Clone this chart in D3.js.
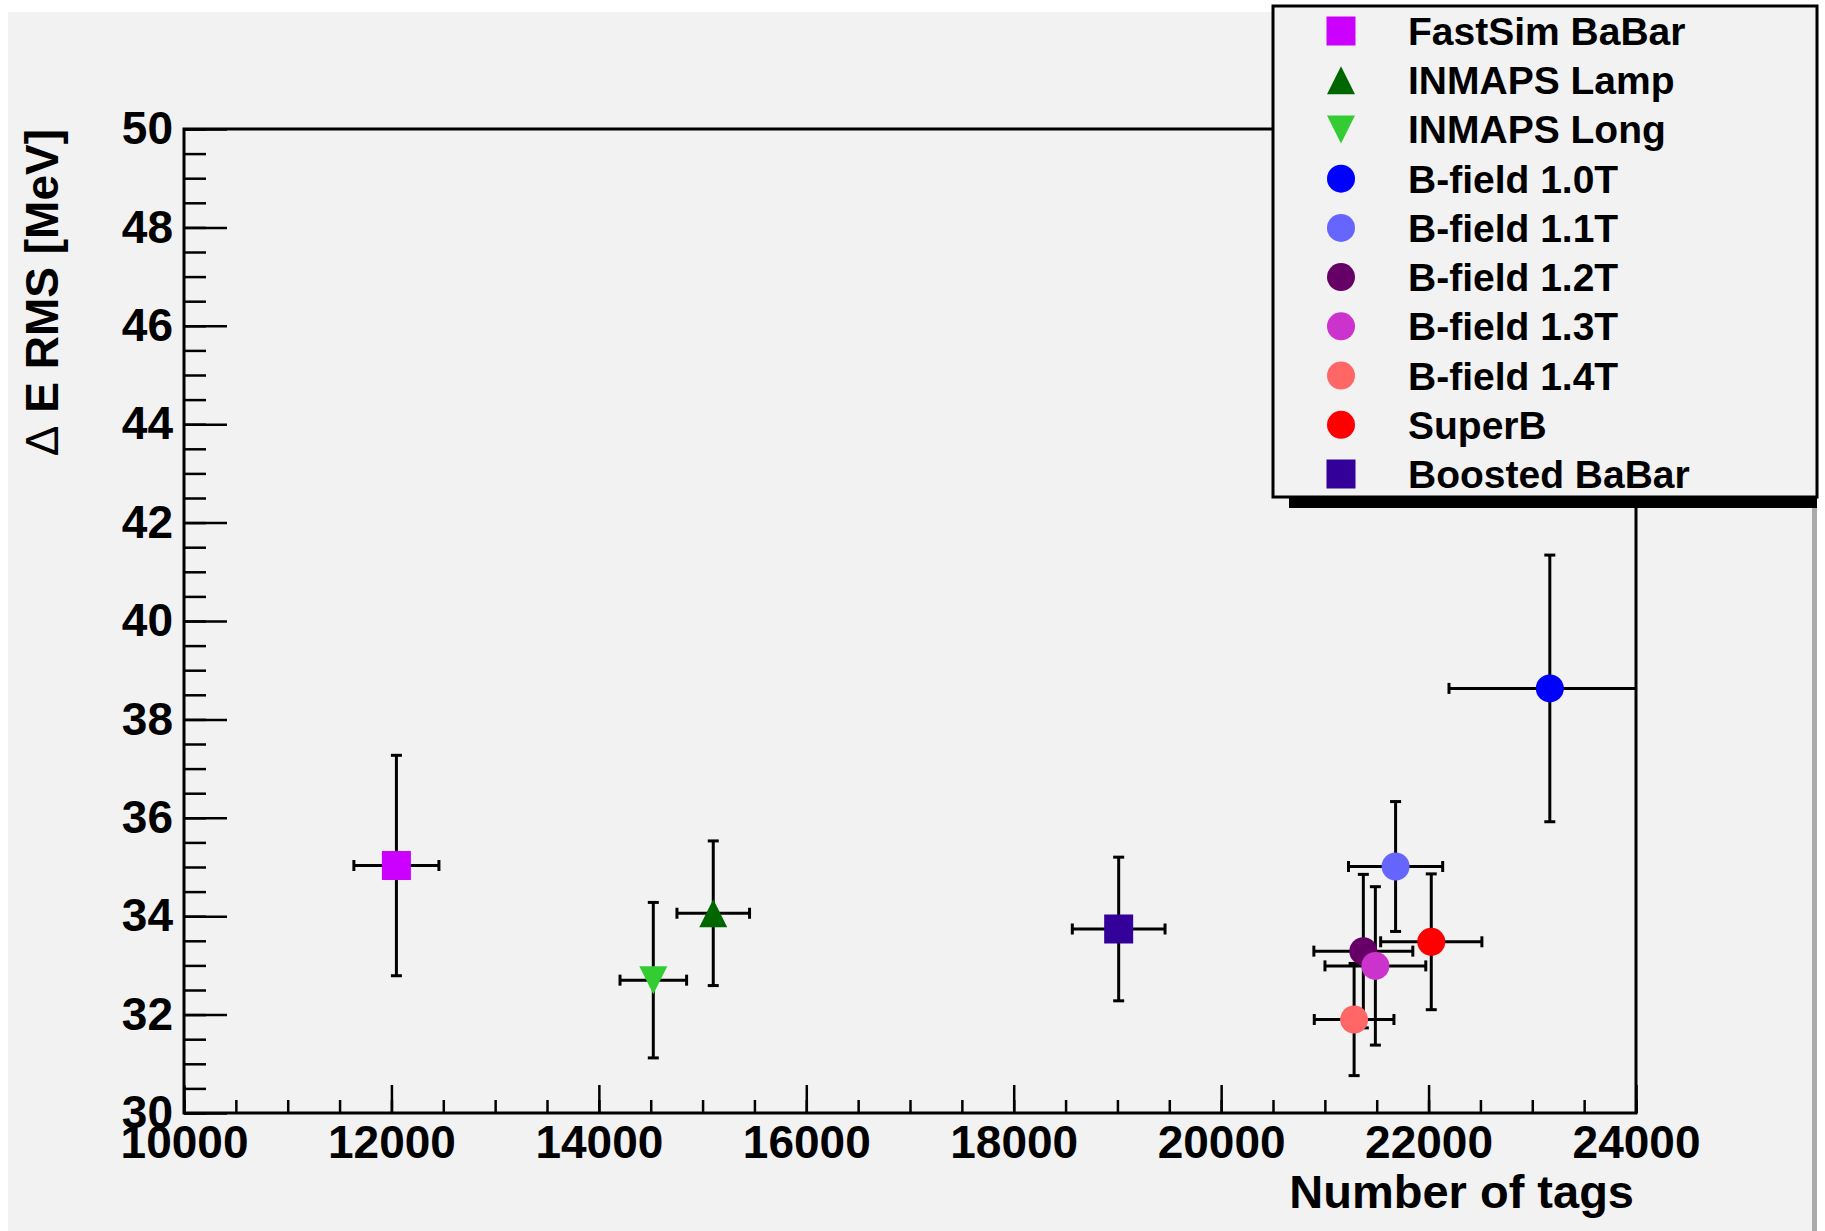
<!DOCTYPE html>
<html>
<head>
<meta charset="utf-8">
<script src="https://cdn.jsdelivr.net/npm/d3@7"></script>
<style>
  body { margin: 0; background: #fff; }
  svg { display: block; font-family: "Liberation Sans", Arial, Helvetica, sans-serif; font-weight: bold; }
</style>
</head>
<body>
<svg id="chart" width="1825" height="1231"></svg>
<script>
// ---- data ----
const names = ['FastSim BaBar', 'INMAPS Lamp', 'INMAPS Long', 'B-field 1.0T', 'B-field 1.1T',
  'B-field 1.2T', 'B-field 1.3T', 'B-field 1.4T', 'SuperB', 'Boosted BaBar']
const colors = ['#cc00ff', '#006600', '#33cc33', '#0000ff', '#6666ff',
  '#660066', '#cc33cc', '#ff6666', '#ff0000', '#330099']
const shapes = ['square', 'up', 'down', 'circle', 'circle', 'circle', 'circle', 'circle', 'circle', 'square']
const tags = [12048, 15103, 14525, 23169, 21682, 21371, 21487, 21282, 22026, 19012]
const tagErr = [410, 350, 321, 972, 454, 477, 486, 384, 488, 447]
const rms = [35.03, 34.06, 32.70, 38.63, 35.01, 33.29, 32.99, 31.90, 33.48, 33.74]
const rmsErr = [2.24, 1.47, 1.58, 2.71, 1.32, 1.56, 1.61, 1.14, 1.38, 1.46]
const xTicks = [10000, 12000, 14000, 16000, 18000, 20000, 22000, 24000]
const yTicks = [30, 32, 34, 36, 38, 40, 42, 44, 46, 48, 50]

const rows = names.map((n, i) => ({
  name: n, color: colors[i], shape: shapes[i],
  x: tags[i], ex: tagErr[i], y: rms[i], ey: rmsErr[i]
}))

const svg = d3.select('#chart')

/* ---------- canvas background ---------- */
svg.append('rect').attr('x', 8).attr('y', 12).attr('width', 1804).attr('height', 1219).attr('fill', '#f2f2f2')
svg.append('rect').attr('x', 1812).attr('y', 12).attr('width', 5).attr('height', 1219).attr('fill', '#aaaaaa')

/* ---------- scales ---------- */
const L = 184, R = 1636, T = 129, B = 1113
const x = d3.scaleLinear().domain([10000, 24000]).range([L, R])
const y = d3.scaleLinear().domain([30, 50]).range([B, T])

/* ---------- axes ---------- */
const fmt = d3.format('d')

// minor ticks
svg.append('g')
  .attr('transform', `translate(0,${B})`)
  .call(d3.axisBottom(x).tickValues(d3.range(10000, 24001, 500)).tickSize(-13).tickFormat(''))
svg.append('g')
  .attr('transform', `translate(${L},0)`)
  .call(d3.axisLeft(y).tickValues(d3.range(30, 50.01, 0.5)).tickSize(-22).tickFormat(''))

// major ticks + labels
svg.append('g')
  .attr('class', 'xaxis')
  .attr('transform', `translate(0,${B})`)
  .call(d3.axisBottom(x).tickValues(xTicks).tickSize(-28).tickPadding(12).tickFormat(fmt))
svg.append('g')
  .attr('class', 'yaxis')
  .attr('transform', `translate(${L},0)`)
  .call(d3.axisLeft(y).tickValues(yTicks).tickSize(-43).tickPadding(11).tickFormat(fmt))

svg.selectAll('.domain').remove()
svg.selectAll('.tick line').attr('stroke', '#000').attr('stroke-width', 2.5)
svg.selectAll('.xaxis text, .yaxis text')
  .attr('fill', '#000')
  .style('font-size', '46px')
  .style('font-family', '"Liberation Sans", Arial, sans-serif')
  .style('font-weight', 'bold')

// frame
svg.append('rect')
  .attr('x', L).attr('y', T).attr('width', R - L).attr('height', B - T)
  .attr('fill', 'none').attr('stroke', '#000').attr('stroke-width', 3)

/* ---------- axis titles ---------- */
svg.append('text')
  .attr('x', R - 2).attr('y', 1208)
  .attr('text-anchor', 'end')
  .style('font-size', '47px')
  .text('Number of tags')

const yTitle = svg.append('text')
  .attr('transform', `translate(58,${T}) rotate(-90)`)
  .attr('text-anchor', 'end')
  .style('font-size', '46px')
yTitle.append('tspan').style('font-weight', 'normal').text('\u0394')
yTitle.append('tspan').text(' E RMS [MeV]')

/* ---------- markers ---------- */
const clip = svg.append('clipPath').attr('id', 'plotClip')
clip.append('rect').attr('x', L).attr('y', T).attr('width', R - L).attr('height', B - T)

const plot = svg.append('g').attr('clip-path', 'url(#plotClip)')
const CAP = 5.5

function drawMarker (g, shape, color, cx, cy) {
  if (shape === 'circle') {
    g.append('circle').attr('cx', cx).attr('cy', cy).attr('r', 14).attr('fill', color)
  } else if (shape === 'square') {
    g.append('rect').attr('x', cx - 14.5).attr('y', cy - 14.5).attr('width', 29).attr('height', 29).attr('fill', color)
  } else {
    const s = shape === 'up' ? 1 : -1
    g.append('path')
      .attr('d', `M${cx - 14},${cy + 14 * s} L${cx + 14},${cy + 14 * s} L${cx},${cy - 14 * s} Z`)
      .attr('fill', color)
  }
}

// error bars
rows.forEach(d => {
  const g = plot.append('g').attr('stroke', '#000').attr('stroke-width', 3).attr('fill', 'none')
  const cx = x(d.x), cy = y(d.y)
  const x0 = x(d.x - d.ex), x1 = x(d.x + d.ex)
  const y0 = y(d.y - d.ey), y1 = y(d.y + d.ey)
  g.append('line').attr('x1', x0).attr('x2', x1).attr('y1', cy).attr('y2', cy)
  g.append('line').attr('x1', cx).attr('x2', cx).attr('y1', y0).attr('y2', y1)
  g.append('line').attr('x1', x0).attr('x2', x0).attr('y1', cy - CAP).attr('y2', cy + CAP)
  g.append('line').attr('x1', x1).attr('x2', x1).attr('y1', cy - CAP).attr('y2', cy + CAP)
  g.append('line').attr('x1', cx - CAP).attr('x2', cx + CAP).attr('y1', y0).attr('y2', y0)
  g.append('line').attr('x1', cx - CAP).attr('x2', cx + CAP).attr('y1', y1).attr('y2', y1)
})

rows.forEach(d => drawMarker(plot, d.shape, d.color, x(d.x), y(d.y)))

/* ---------- legend ---------- */
const leg = svg.append('g')
leg.append('rect').attr('x', 1289).attr('y', 497).attr('width', 528).attr('height', 11).attr('fill', '#000')
leg.append('rect')
  .attr('x', 1273).attr('y', 6).attr('width', 544).attr('height', 491)
  .attr('fill', '#f2f2f2').attr('stroke', '#000').attr('stroke-width', 3)

const legY = d3.scaleLinear().domain([0, rows.length - 1]).range([31, 474])
rows.forEach((d, i) => {
  drawMarker(leg, d.shape, d.color, 1341, legY(i))
  leg.append('text')
    .attr('x', 1408).attr('y', legY(i) + 14)
    .style('font-size', '39px')
    .text(d.name)
})
</script>
</body>
</html>
